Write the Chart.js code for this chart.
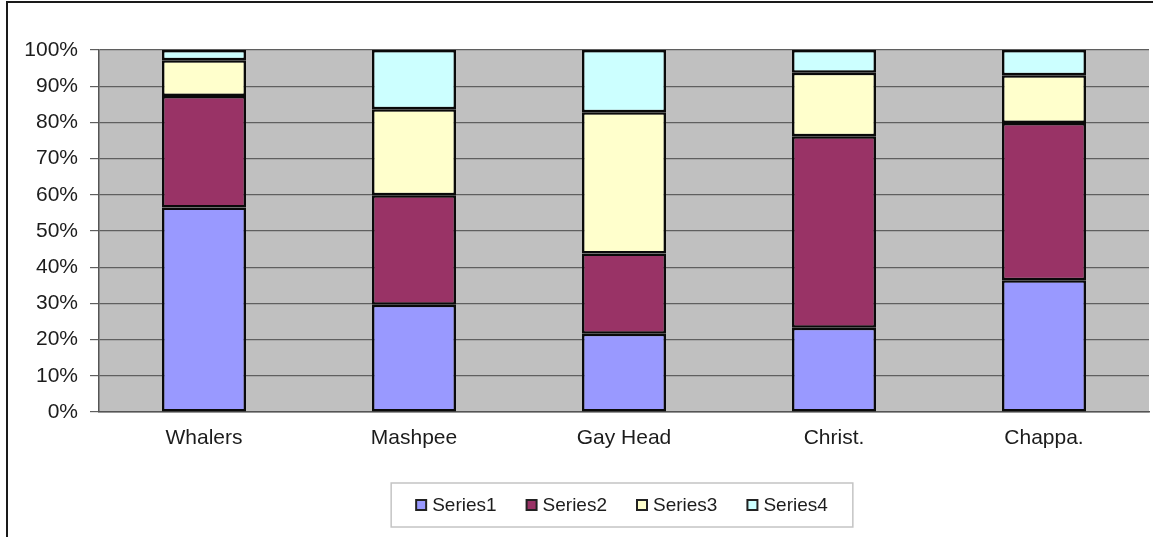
<!DOCTYPE html>
<html>
<head>
<meta charset="utf-8">
<title>Stacked composition by community</title>
<script src="https://cdn.jsdelivr.net/npm/chart.js@4.4.1/dist/chart.umd.min.js"></script>
<style>
  html, body { margin: 0; padding: 0; background: #ffffff; }
  #wrap { width: 1153px; height: 537px; }
</style>
</head>
<body>
<div id="wrap"><canvas id="chart" width="1153" height="537"></canvas></div>
<script>
// Categories along the x axis
const categories = ['Whalers', 'Mashpee', 'Gay Head', 'Christ.', 'Chappa.'];

// Share of each series per category (percent, each column sums to 100)
const series1 = [56.5, 29.6, 21.6, 23.3, 36.4];
const series2 = [30.8, 30.3, 22.2, 52.9, 43.4];
const series3 = [9.9, 23.7, 39.0, 17.5, 13.2];
const series4 = [2.8, 16.4, 17.2, 6.3, 7.0];

const seriesNames = ['Series1', 'Series2', 'Series3', 'Series4'];
const seriesColors = ['#9999FF', '#993366', '#FFFFCC', '#CCFFFF'];

// Y axis tick values (percent)
const yTicks = [0, 10, 20, 30, 40, 50, 60, 70, 80, 90, 100];

const FONT = 'Arial, "Liberation Sans", sans-serif';
const TEXT = '#1c1c1c';

// Gray plot background, outer frame and the legend box
const decor = {
  id: 'decor',
  beforeDraw(chart) {
    const { ctx, chartArea: a } = chart;
    ctx.save();
    ctx.fillStyle = '#C0C0C0';
    ctx.fillRect(a.left, a.top, a.right - a.left, a.bottom - a.top);
    ctx.restore();
  },
  afterDraw(chart) {
    const { ctx, chartArea: a } = chart;
    ctx.save();
    // frame along top and left edge
    ctx.strokeStyle = '#1a1a1a';
    ctx.lineWidth = 2;
    ctx.beginPath();
    ctx.moveTo(7, chart.height);
    ctx.lineTo(7, 2);
    ctx.lineTo(chart.width, 2);
    ctx.stroke();

    // legend
    ctx.font = '19px ' + FONT;
    ctx.textBaseline = 'middle';
    const box = 10, gap = 6, itemGap = 30;
    const widths = chart.data.datasets.map(d => ctx.measureText(d.label).width);
    const total = widths.reduce((s, w) => s + box + gap + w, 0) + itemGap * (widths.length - 1);
    const cx = (a.left + a.right) / 2 - 2;
    const top = 483, bottom = 527, mid = (top + bottom) / 2;
    const padX = 25;
    ctx.strokeStyle = '#c4c4c4';
    ctx.lineWidth = 1.5;
    ctx.strokeRect(cx - total / 2 - padX, top, total + 2 * padX, bottom - top);
    let x = cx - total / 2;
    chart.data.datasets.forEach((d, i) => {
      ctx.fillStyle = d.backgroundColor;
      ctx.fillRect(x, mid - box / 2, box, box);
      ctx.strokeStyle = '#222';
      ctx.lineWidth = 2;
      ctx.strokeRect(x, mid - box / 2, box, box);
      ctx.fillStyle = TEXT;
      ctx.textAlign = 'left';
      ctx.fillText(d.label, x + box + gap, mid + 1);
      x += box + gap + widths[i] + itemGap;
    });
    ctx.restore();
  }
};

const values = [series1, series2, series3, series4];

new Chart(document.getElementById('chart'), {
  type: 'bar',
  data: {
    labels: categories,
    datasets: values.map((v, i) => ({
      label: seriesNames[i],
      data: v,
      backgroundColor: seriesColors[i],
      borderColor: '#0a0a0a',
      borderWidth: 2.5,
      borderSkipped: false,
      categoryPercentage: 1.0,
      barPercentage: 0.4
    }))
  },
  options: {
    responsive: false,
    animation: false,
    layout: { padding: { top: 50, right: 4, left: 0, bottom: 0 } },
    plugins: {
      legend: { display: false },
      tooltip: { enabled: false }
    },
    scales: {
      x: {
        stacked: true,
        afterFit(s) { s.height = 125; },
        grid: { display: false, drawTicks: false },
        border: { display: true, color: '#555555', width: 1.5 },
        ticks: { color: TEXT, font: { family: FONT, size: 21 }, padding: 14 }
      },
      y: {
        stacked: true,
        min: 0,
        max: 100,
        afterFit(s) { s.width = 99; },
        afterBuildTicks(s) { s.ticks = yTicks.map(v => ({ value: v })); },
        grid: { color: '#5f5f5f', lineWidth: 1.2, tickLength: 9 },
        border: { display: true, color: '#555555', width: 1.5 },
        ticks: {
          color: TEXT,
          font: { family: FONT, size: 21 },
          padding: 12,
          callback: v => v + '%'
        }
      }
    }
  },
  plugins: [decor]
});
</script>
</body>
</html>
